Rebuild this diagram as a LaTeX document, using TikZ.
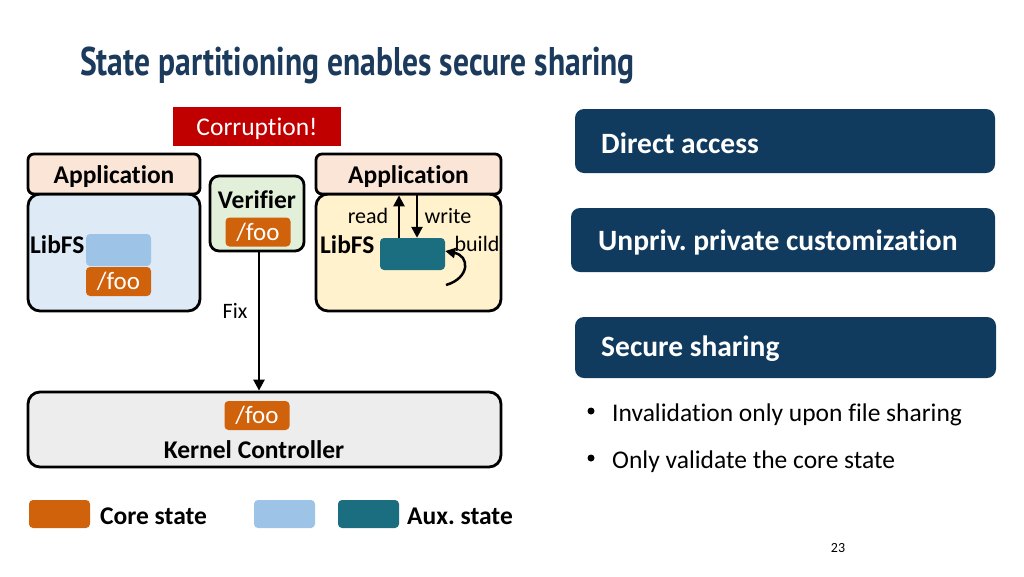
\documentclass[tikz,border=0pt]{standalone}
\usepackage{fontspec}
\setmainfont{Carlito}[Ligatures=NoCommon]
\newfontfamily\titlefont{PT Sans}
\usetikzlibrary{arrows.meta}
\frenchspacing
\definecolor{titleblue}{HTML}{1B3A5C}
\definecolor{navy}{HTML}{103B5F}
\definecolor{corrred}{HTML}{C00000}
\definecolor{peach}{HTML}{FBE5D6}
\definecolor{libblue}{HTML}{DEEBF7}
\definecolor{vergreen}{HTML}{E2F0D9}
\definecolor{libyellow}{HTML}{FFF2CC}
\definecolor{kgray}{HTML}{EDEDED}
\definecolor{core}{HTML}{D0620C}
\definecolor{lblue}{HTML}{9DC3E6}
\definecolor{teal}{HTML}{1B6E80}
\tikzset{
  hdr/.style={draw=black, line width=2.8pt, fill=peach, rounded corners=6pt, minimum width=172pt, minimum height=40pt, inner sep=0pt, text height=23pt, text depth=5pt, font=\bfseries\fontsize{25.5}{25.5}\selectfont},
  body/.style={draw=black, line width=2.8pt, rounded corners=12pt, inner sep=0pt},
  state/.style={rounded corners=4pt, inner sep=0pt, minimum width=65pt},
  foo/.style={state, fill=core, text=white, minimum height=29pt, font=\fontsize{25}{25}\selectfont},
  navybox/.style={fill=navy, rounded corners=9pt, minimum height=64pt, inner sep=0pt},
  navytext/.style={text=white, anchor=west, font=\bfseries\fontsize{29.5}{29.5}\selectfont, inner sep=0pt, yshift=-1pt},
  lbl/.style={inner sep=0pt, font=\fontsize{22}{22}\selectfont},
  txt/.style={inner sep=0pt, font=\bfseries\fontsize{25.5}{25.5}\selectfont, yshift=-1.5pt},
  arr/.style={line width=2.5pt, -{Triangle[length=11pt,width=11pt]}},
}
\begin{document}
\begin{tikzpicture}[x=1pt,y=-1pt]
\useasboundingbox (0,0) rectangle (1024,576);
\fill[white] (0,0) rectangle (1024,576);
% title
\node[anchor=base west, inner sep=0pt, text=titleblue] (title) at (80,75)
  {\scalebox{0.79}[1]{\titlefont\bfseries\fontsize{40}{40}\selectfont State partitioning enables secure sharing}};
% corruption
\node[fill=corrred, text=white, minimum width=168pt, minimum height=39pt, inner sep=0pt, text height=23pt, text depth=5pt, font=\fontsize{25.5}{25.5}\selectfont] (corr) at (257,126.5) {Corruption!};
% left app
\node[body, fill=libblue, minimum width=172pt, minimum height=117pt] (libL) at (114,252.5) {};
\node[hdr] (appL) at (114,174) {Application};
\node[txt, anchor=west] (libfsL) at (30,243) {LibFS};
\node[state, fill=lblue, minimum height=32pt] (auxL) at (118.5,250) {};
\node[foo] (fooL) at (118.5,281.5) {/foo};
% verifier
\node[body, fill=vergreen, rounded corners=9pt, minimum width=94pt, minimum height=75pt] (ver) at (257,213.5) {};
\node[txt] (vertext) at (257,198) {Verifier};
\node[foo] (fooV) at (258,232) {/foo};
% right app
\node[body, fill=libyellow, minimum width=185pt, minimum height=117pt] (libR) at (408.5,252.5) {};
\node[hdr, minimum width=185pt] (appR) at (408.5,174) {Application};
\node[txt, anchor=west] (libfsR) at (320,243) {LibFS};
\node[state, fill=teal, minimum height=32pt] (auxR) at (412.5,254) {};
\draw[arr] (auxR.north -| 399,0) -- (appR.south -| 399,0);
\draw[arr] (appR.south -| 417,0) -- (auxR.north -| 417,0);
\node[lbl] (read) at (368,216) {read};
\node[lbl] (write) at (448,216) {write};
\node[lbl] (build) at (477,244) {build};
\coordinate (bstart) at (446,285);
\draw[line width=2.5pt, -{Triangle[length=10pt,width=10pt]}] (bstart) .. controls (470,278) and (470,256) .. (auxR.east |- 0,251);
% kernel
\node[body, fill=kgray, minimum width=473pt, minimum height=75pt] (kern) at (264.5,429.5) {};
\node[foo] (fooK) at (257,415.5) {/foo};
\node[txt] (ktext) at (254,448) {Kernel Controller};
% fix arrow
\draw[arr] (ver.south -| 259,0) -- (kern.north -| 259,0);
\node[inner sep=0pt, font=\fontsize{22}{22}\selectfont] (fix) at (235,311) {Fix};
% legend
\node[state, fill=core, minimum width=61pt, minimum height=28pt] (legcore) at (59.5,514) {};
\node[txt, anchor=west] (legcoret) at (100,515) {Core state};
\node[state, fill=lblue, minimum width=61pt, minimum height=28pt] (legl) at (284.5,514) {};
\node[state, fill=teal, minimum width=61pt, minimum height=28pt] (legt) at (368.5,514) {};
\node[txt, anchor=west] (legtt) at (407,515) {Aux. state};
% right panel
\node[navybox, minimum width=420pt] (b1) at (785,141) {};
\node[navytext] (b1t) at (601,142) {Direct access};
\node[navybox, minimum width=424pt] (b2) at (783,240) {};
\node[navytext] (b2t) at (598,241) {Unpriv. private customization};
\node[navybox, minimum width=421pt, minimum height=61pt] (b3) at (785.5,347.5) {};
\node[navytext] (b3t) at (601,348) {Secure sharing};
\node[anchor=west, inner sep=0pt, yshift=-1.5pt, font=\fontsize{25.5}{25.5}\selectfont] (bul1) at (612,413) {Invalidation only upon file sharing};
\node[anchor=west, inner sep=0pt, yshift=-1.5pt, font=\fontsize{25.5}{25.5}\selectfont] (bul2) at (612,460) {Only validate the core state};
\fill (591,411) circle (3.5pt);
\fill (591,458) circle (3.5pt);
\node[inner sep=0pt, font=\fontsize{14}{14}\selectfont] (page) at (838,548) {23};
\end{tikzpicture}
\end{document}
